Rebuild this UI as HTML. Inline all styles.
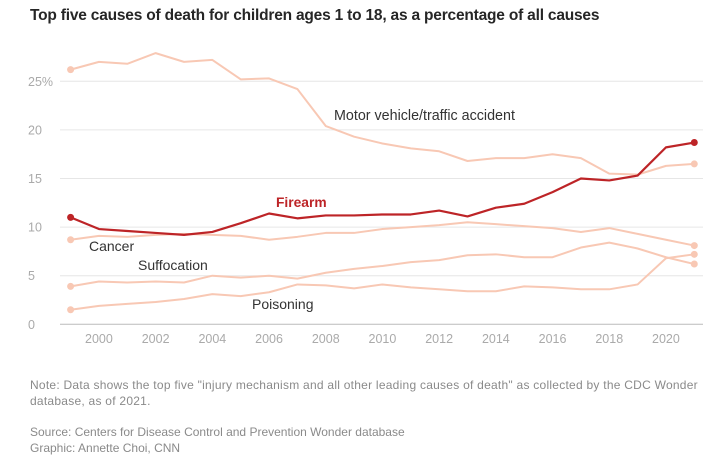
<!DOCTYPE html>
<html><head><meta charset="utf-8">
<style>
body{margin:0;background:#fff;width:726px;height:458px;overflow:hidden;font-family:"Liberation Sans",sans-serif;}
#title{position:absolute;left:30px;top:7px;font-size:15.5px;font-weight:bold;color:#262626;letter-spacing:-0.2px;}
.note{position:absolute;left:30px;font-size:12px;color:#8a8a8a;line-height:16px;}
svg{position:absolute;left:0;top:0;}
</style></head>
<body>
<div id="title">Top five causes of death for children ages 1 to 18, as a percentage of all causes</div>
<svg id="chart" width="726" height="458"></svg>
<div class="note" style="top:377px;letter-spacing:0.25px">Note: Data shows the top five "injury mechanism and all other leading causes of death" as collected by the CDC Wonder<br>database, as of 2021.</div>
<div class="note" style="top:424px">Source: Centers for Disease Control and Prevention Wonder database<br>Graphic: Annette Choi, CNN</div>
<script>
const years=[1999,2000,2001,2002,2003,2004,2005,2006,2007,2008,2009,2010,2011,2012,2013,2014,2015,2016,2017,2018,2019,2020,2021];
const motor=[26.2,27.0,26.8,27.9,27.0,27.2,25.2,25.3,24.2,20.4,19.3,18.6,18.1,17.8,16.8,17.1,17.1,17.5,17.1,15.5,15.4,16.3,16.5];
const firearm=[11.0,9.8,9.6,9.4,9.2,9.5,10.4,11.4,10.9,11.2,11.2,11.3,11.3,11.7,11.1,12.0,12.4,13.6,15.0,14.8,15.3,18.2,18.7];
const cancer=[8.7,9.1,9.0,9.2,9.3,9.2,9.1,8.7,9.0,9.4,9.4,9.8,10.0,10.2,10.5,10.3,10.1,9.9,9.5,9.9,9.3,8.7,8.1];
const suffocation=[3.9,4.4,4.3,4.4,4.3,5.0,4.8,5.0,4.7,5.3,5.7,6.0,6.4,6.6,7.1,7.2,6.9,6.9,7.9,8.4,7.8,6.9,6.2];
const poisoning=[1.5,1.9,2.1,2.3,2.6,3.1,2.9,3.3,4.1,4.0,3.7,4.1,3.8,3.6,3.4,3.4,3.9,3.8,3.6,3.6,4.1,6.8,7.2];
const yTicks=[0,5,10,15,20,25];
const yTickLabels=["0","5","10","15","20","25%"];
const xTicks=[2000,2002,2004,2006,2008,2010,2012,2014,2016,2018,2020];

const svg=document.getElementById('chart');
const NS='http://www.w3.org/2000/svg';
const x=v=>70.6+(v-1999)*28.35;
const y=v=>324.3-v*9.72;
function mk(tag,attrs){const e=document.createElementNS(NS,tag);for(const k in attrs)e.setAttribute(k,attrs[k]);svg.appendChild(e);return e;}

yTicks.forEach((t,i)=>{
  const g=mk('line',{x1:60,x2:703,y1:y(t),y2:y(t),stroke:t===0?'#bbb':'#e6e6e6','stroke-width':1});
  
  
  const tx=mk('text',{x:28,y:y(t)+4.5,'font-size':12.5,fill:'#aaa','font-family':'Liberation Sans, sans-serif'});
  tx.textContent=yTickLabels[i];
  
  
});
xTicks.forEach(t=>{
  const tx=mk('text',{x:x(t),y:343,'font-size':12.5,fill:'#aaa','text-anchor':'middle','font-family':'Liberation Sans, sans-serif'});
  tx.textContent=t;
  
  
});

function series(vals,color,w,name){
  const p=mk('polyline',{points:vals.map((v,i)=>x(years[i])+','+y(v)).join(' '),fill:'none',stroke:color,'stroke-width':w,'stroke-linejoin':'round'});
  
  
  [0,vals.length-1].forEach(i=>{
    const c=mk('circle',{cx:x(years[i]),cy:y(vals[i]),r:3.5,fill:color});
    
    
  });
}
const light='#f8c8b4';
series(motor,light,2,'motor-vehicle');
series(cancer,light,2,'cancer');
series(suffocation,light,2,'suffocation');
series(poisoning,light,2,'poisoning');
series(firearm,'#bd2427',2.2,'firearm');

function label(t,lx,ly,color,bold,name,fs){
  const e=mk('text',{x:lx,y:ly,'font-size':fs,fill:color,'font-weight':bold?'bold':'normal','font-family':'Liberation Sans, sans-serif'});
  e.textContent=t;
  
  
}
label('Motor vehicle/traffic accident',334,120,'#333',false,'motor-vehicle-label',14.3);
label('Firearm',276,207,'#bd2427',true,'firearm-label',13.8);
label('Cancer',89,251,'#333',false,'cancer-label',14);
label('Suffocation',138,270,'#333',false,'suffocation-label',14);
label('Poisoning',252,309,'#333',false,'poisoning-label',14);
</script>
</body></html>
